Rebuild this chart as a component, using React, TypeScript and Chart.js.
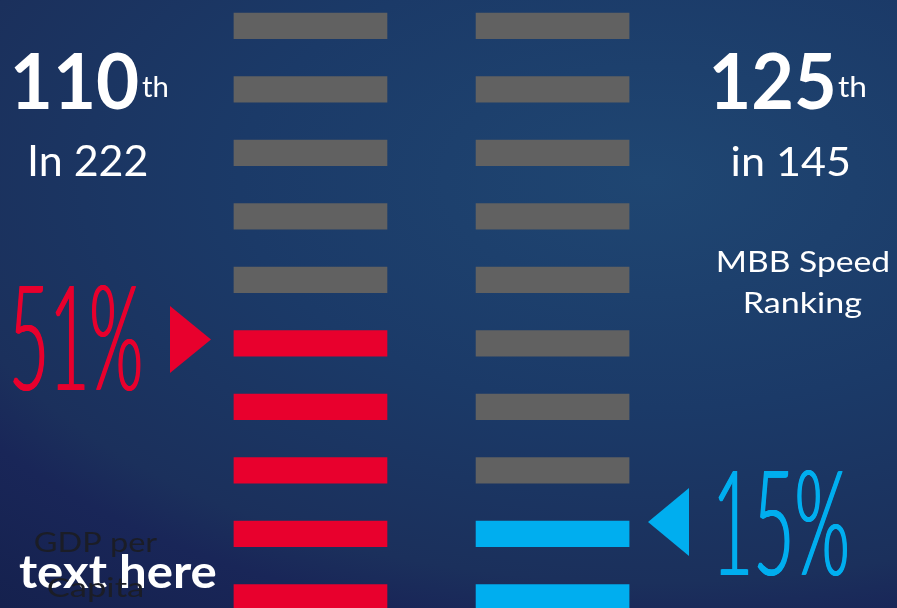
import React, { useEffect, useRef } from "react";
import { Chart, registerables } from "chart.js";

Chart.register(...registerables);

// ---------- data ----------
const ROWS = [0, 1, 2, 3, 4, 5, 6, 7, 8, 9]; // ten cells per gauge, top to bottom
const COLUMNS = ["GDP per Capita", "MBB Speed Ranking"];
const SHARE_PCT = [51, 15];
const FILLED_CELLS = [5, 2];
const RANK = [110, 125];
const RANK_OUT_OF = [222, 145];
const RANK_PREFIX = ["In", "in"];
const PLACEHOLDER = "text here";

// ---------- layout / style ----------
const W = 897;
const H = 608;
const COL_OFFSET = [0, 1.582];
const X_MIN = -1.529;
const X_MAX = 4.333;
const Y_MIN = -0.407;
const Y_MAX = 9.168;
const GREY = "#616161";
const HIGHLIGHT = ["#E8002D", "#00AEEF"];
const FONT = 'Lato, "Open Sans", "Noto Sans", sans-serif';

type Box = {
  text: string;
  left: number;
  right: number;
  top: number;
  baseline: number;
  weight: number;
  color: string;
  smear?: number;
};

function drawFit(ctx: CanvasRenderingContext2D, b: Box) {
  const smear = b.smear ?? 0;
  ctx.save();
  ctx.textAlign = "left";
  ctx.textBaseline = "alphabetic";
  ctx.font = `${b.weight} 100px ${FONT}`;
  const m = ctx.measureText(b.text);
  const size = (100 * (b.baseline - b.top)) / m.actualBoundingBoxAscent;
  ctx.font = `${b.weight} ${size}px ${FONT}`;
  const m2 = ctx.measureText(b.text);
  const ink = m2.actualBoundingBoxLeft + m2.actualBoundingBoxRight;
  const sx = (b.right - b.left - smear) / ink;
  ctx.translate(b.left, b.baseline);
  ctx.scale(sx, 1);
  ctx.fillStyle = b.color;
  const steps = smear > 0 ? Math.ceil(smear / 0.5) : 0;
  for (let i = 0; i <= steps; i++) {
    const dx = steps ? (smear * i) / steps / sx : 0;
    ctx.fillText(b.text, m2.actualBoundingBoxLeft + dx, 0);
  }
  ctx.restore();
}

function ordinal(n: number) {
  const t = n % 100;
  if (t >= 11 && t <= 13) return "th";
  const u = n % 10;
  return u === 1 ? "st" : u === 2 ? "nd" : u === 3 ? "rd" : "th";
}

function splitLabel(s: string): [string, string] {
  const i = s.lastIndexOf(" ");
  return [s.slice(0, i), s.slice(i + 1)];
}

const backgroundPlugin = {
  id: "bg",
  beforeDraw(chart: any) {
    const ctx: CanvasRenderingContext2D = chart.ctx;
    const cx = 650;
    const cy = 180;
    const sx = 1.8;
    ctx.save();
    ctx.translate(cx, cy);
    ctx.scale(sx, 1);
    const g = ctx.createRadialGradient(0, 0, 0, 0, 0, 600);
    g.addColorStop(0, "#1f4672");
    g.addColorStop(0.38, "#1b3a68");
    g.addColorStop(0.67, "#1b305c");
    g.addColorStop(0.75, "#192658");
    g.addColorStop(0.93, "#15214e");
    g.addColorStop(1, "#141f4c");
    ctx.fillStyle = g;
    ctx.fillRect(-cx / sx - 2, -cy - 2, W / sx + 4, H + 4);
    ctx.restore();
  },
};

const textPlugin = {
  id: "texts",
  afterDraw(chart: any) {
    const ctx: CanvasRenderingContext2D = chart.ctx;
    const [l0a, l0b] = splitLabel(COLUMNS[0]);
    const [l1a, l1b] = splitLabel(COLUMNS[1]);

    // arrows
    ctx.save();
    ctx.fillStyle = HIGHLIGHT[0];
    ctx.beginPath();
    ctx.moveTo(170, 306);
    ctx.lineTo(170, 373);
    ctx.lineTo(211, 339.5);
    ctx.closePath();
    ctx.fill();
    ctx.fillStyle = HIGHLIGHT[1];
    ctx.beginPath();
    ctx.moveTo(689, 488);
    ctx.lineTo(689, 556);
    ctx.lineTo(648, 522);
    ctx.closePath();
    ctx.fill();
    ctx.restore();

    const boxes: Box[] = [
      { text: String(RANK[0]), left: 14.5, right: 137.5, top: 52.5, baseline: 109, weight: 700, color: "#ffffff" },
      { text: ordinal(RANK[0]), left: 142, right: 167, top: 75.5, baseline: 96.5, weight: 400, color: "#ffffff" },
      { text: `${RANK_PREFIX[0]} ${RANK_OUT_OF[0]}`, left: 30, right: 147, top: 145, baseline: 175.7, weight: 400, color: "#ffffff" },
      { text: `${SHARE_PCT[0]}%`, left: 13, right: 140.5, top: 283, baseline: 390, weight: 300, color: HIGHLIGHT[0], smear: 1.5 },
      { text: PLACEHOLDER, left: 19, right: 216, top: 554, baseline: 588.3, weight: 700, color: "#ffffff" },
      { text: l0a, left: 35, right: 157, top: 531.7, baseline: 552.3, weight: 400, color: "#1b1d26" },
      { text: l0b, left: 48, right: 142, top: 576.5, baseline: 597, weight: 400, color: "#1b1d26" },

      { text: String(RANK[1]), left: 713.3, right: 833.3, top: 53, baseline: 109.3, weight: 700, color: "#ffffff" },
      { text: ordinal(RANK[1]), left: 838, right: 865, top: 75.5, baseline: 96.5, weight: 400, color: "#ffffff" },
      { text: `${RANK_PREFIX[1]} ${RANK_OUT_OF[1]}`, left: 732.7, right: 849, top: 145, baseline: 175.7, weight: 400, color: "#ffffff" },
      { text: l1a, left: 718, right: 888.5, top: 250, baseline: 271.7, weight: 400, color: "#ffffff" },
      { text: l1b, left: 745, right: 861.7, top: 291.7, baseline: 313.3, weight: 400, color: "#ffffff" },
      { text: `${SHARE_PCT[1]}%`, left: 718, right: 847, top: 468, baseline: 575, weight: 300, color: HIGHLIGHT[1], smear: 1.5 },
    ];
    boxes.forEach((b) => drawFit(ctx, b));
  },
};

export default function App() {
  const ref = useRef<HTMLCanvasElement | null>(null);

  useEffect(() => {
    let chart: Chart | null = null;
    let cancelled = false;

    const build = () => {
      if (cancelled || !ref.current) return;
      const datasets = COLUMNS.map((label, c) => ({
        label,
        data: ROWS.map((r) => ({ x: [COL_OFFSET[c], COL_OFFSET[c] + 1], y: r })),
        backgroundColor: ROWS.map((r) =>
          r >= ROWS.length - FILLED_CELLS[c] ? HIGHLIGHT[c] : GREY
        ),
        borderWidth: 0,
        grouped: false,
        barPercentage: 1,
        categoryPercentage: 1,
        maxBarThickness: 25.7,
      }));

      chart = new Chart(ref.current, {
        type: "bar",
        data: { datasets: datasets as any },
        options: {
          indexAxis: "y",
          animation: false,
          responsive: false,
          events: [],
          layout: { padding: 0 },
          plugins: {
            legend: { display: false },
            tooltip: { enabled: false },
          },
          scales: {
            x: { type: "linear", bounds: "data", offset: false, min: X_MIN, max: X_MAX, display: false },
            y: {
              type: "linear",
              bounds: "data",
              offset: false,
              min: Y_MIN,
              max: Y_MAX,
              reverse: true,
              display: false,
              ticks: { stepSize: 1, includeBounds: false },
            },
          },
        } as any,
        plugins: [backgroundPlugin, textPlugin],
      });
    };

    const fonts = (document as any).fonts;
    if (fonts && fonts.load) {
      Promise.all([
        fonts.load(`700 40px Lato`),
        fonts.load(`400 40px Lato`),
        fonts.load(`300 40px Lato`),
      ])
        .catch(() => {})
        .then(build);
    } else {
      build();
    }

    return () => {
      cancelled = true;
      if (chart) chart.destroy();
    };
  }, []);

  return (
    <div style={{ position: "fixed", left: 0, top: 0, width: W, height: H, overflow: "hidden" }}>
      <canvas ref={ref} width={W} height={H} style={{ display: "block", width: W, height: H }} />
    </div>
  );
}
